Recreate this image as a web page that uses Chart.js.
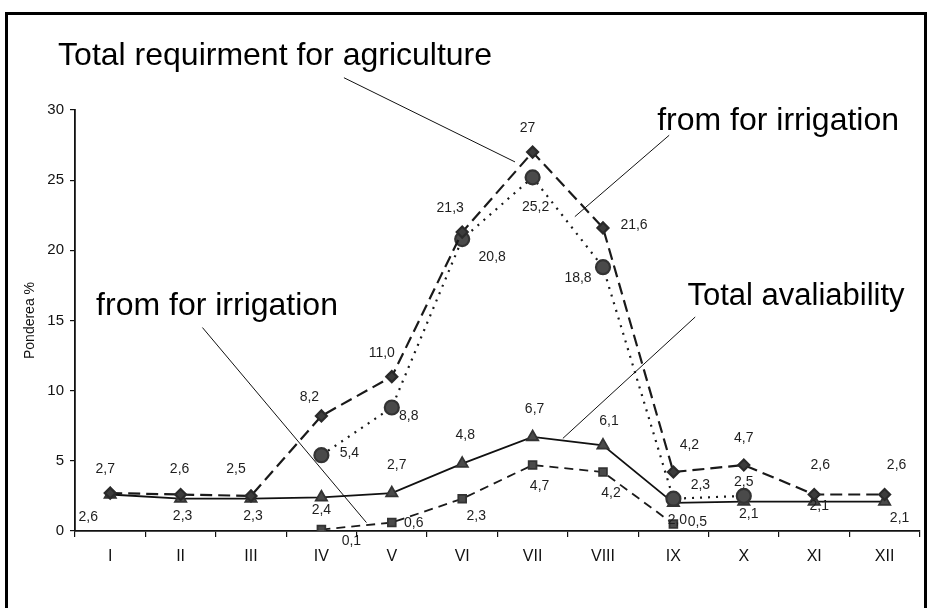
<!DOCTYPE html>
<html>
<head>
<meta charset="utf-8">
<script src="https://cdn.jsdelivr.net/npm/chart.js@4/dist/chart.umd.min.js"></script>
<style>
  html, body { margin: 0; padding: 0; background: #fff; }
  #frame {
    position: absolute; left: 5px; top: 12px; width: 916px; height: 620px;
    border-top: 3px solid #000; border-left: 3px solid #000; border-right: 3px solid #000;
  }
  #wrap { position: absolute; left: 0; top: 0; width: 929px; height: 608px; }
</style>
</head>
<body>
<div id="frame"></div>
<div id="wrap"><canvas id="myChart" width="929" height="608"></canvas></div>
<script>
const months = ["I", "II", "III", "IV", "V", "VI", "VII", "VIII", "IX", "X", "XI", "XII"];
const totalRequirement = [2.7, 2.6, 2.5, 8.2, 11.0, 21.3, 27, 21.6, 4.2, 4.7, 2.6, 2.6];
const requirementIrrigation = [null, null, null, 5.4, 8.8, 20.8, 25.2, 18.8, 2.3, 2.5, null, null];
const totalAvailability = [2.6, 2.3, 2.3, 2.4, 2.7, 4.8, 6.7, 6.1, 2.0, 2.1, 2.1, 2.1];
const availabilityIrrigation = [null, null, null, 0.1, 0.6, 2.3, 4.7, 4.2, 0.5, null, null, null];
const yTicks = [0, 5, 10, 15, 20, 25, 30];

// where each value label sits relative to its point (dx, dy in px)
const labelOffsets = [
  [[-5, -24], [-1, -25], [-15, -27], [-12, -19], [-10, -23], [-12, -24], [-5, -24], [31, -3], [16, -27], [0, -27], [6, -29], [12, -29]],
  [null, null, null, [28, -2], [17, 9], [30, 18], [3, 30], [-25, 11], [27, -14], [0, -14], null, null],
  [[-22, 23], [2, 17], [2, 17], [0, 13], [5, -28], [3, -28], [2, -28], [6, -24], [4, 17], [5, 13], [5, 5], [15, 17]],
  [null, null, null, [30, 12], [22, 1], [14, 17], [7, 21], [8, 21], [24, -2], null, null, null],
];

// callout texts with their leader lines, in (category index, value) units
const callouts = [
  { text: "Total requirment for agriculture", size: 32, at: [-0.74, 33.2], from: [3.32, 32.3], to: [5.75, 26.3] },
  { text: "from for irrigation", size: 32, at: [7.77, 28.6], from: [7.94, 28.2], to: [6.6, 22.4] },
  { text: "from for irrigation", size: 32, at: [-0.2, 15.4], from: [1.31, 14.5], to: [3.64, 0.6] },
  { text: "Total avaliability", size: 31, at: [8.2, 16.1], from: [8.31, 15.25], to: [6.43, 6.6] },
];

function fmt(v) {
  let s = Number.isInteger(v) && v > 20 ? String(v) : v.toFixed(1);
  return s.replace(".", ",");
}

const valueLabels = {
  id: "valueLabels",
  afterDatasetsDraw(chart) {
    let ctx = chart.ctx;
    ctx.save();
    ctx.font = "14px 'Liberation Sans', Arial, sans-serif";
    ctx.fillStyle = "#1e1e1e";
    ctx.textAlign = "center";
    ctx.textBaseline = "middle";
    chart.data.datasets.forEach((ds, i) => {
      let meta = chart.getDatasetMeta(i);
      meta.data.forEach((pt, j) => {
        let v = ds.data[j];
        let off = labelOffsets[i][j];
        if (v === null || !off) return;
        ctx.fillText(fmt(v), pt.x + off[0], pt.y + off[1]);
      });
    });
    ctx.restore();
  },
};

const callout = {
  id: "callout",
  afterDraw(chart) {
    let ctx = chart.ctx;
    let xs = chart.scales.x;
    let ys = chart.scales.y;
    ctx.save();
    ctx.strokeStyle = "#111";
    ctx.lineWidth = 1;
    ctx.fillStyle = "#000";
    ctx.textBaseline = "alphabetic";
    callouts.forEach((c) => {
      ctx.beginPath();
      ctx.moveTo(xs.getPixelForValue(c.from[0]), ys.getPixelForValue(c.from[1]));
      ctx.lineTo(xs.getPixelForValue(c.to[0]), ys.getPixelForValue(c.to[1]));
      ctx.stroke();
      ctx.font = c.size + "px 'Liberation Sans', Arial, sans-serif";
      ctx.fillText(c.text, xs.getPixelForValue(c.at[0]), ys.getPixelForValue(c.at[1]));
    });
    ctx.restore();
  },
};

let ctx = document.getElementById("myChart").getContext("2d");
let chart = new Chart(ctx, {
  type: "line",
  data: {
    labels: months,
    datasets: [
      {
        label: "Total requirment for agriculture",
        data: totalRequirement,
        borderColor: "#1a1a1a",
        borderWidth: 2.2,
        borderDash: [12, 6],
        pointStyle: "rectRot",
        pointRadius: 5.5,
        pointBackgroundColor: "#3c3c3c",
        pointBorderColor: "#2a2a2a",
        tension: 0,
      },
      {
        label: "from for irrigation",
        data: requirementIrrigation,
        borderColor: "#1a1a1a",
        borderWidth: 2.2,
        borderDash: [2, 6],
        pointStyle: "circle",
        pointRadius: 7,
        pointBackgroundColor: "#4a4a4a",
        pointBorderColor: "#333",
        tension: 0,
      },
      {
        label: "Total avaliability",
        data: totalAvailability,
        borderColor: "#111",
        borderWidth: 1.8,
        pointStyle: "triangle",
        pointRadius: 6.5,
        pointBackgroundColor: "#4a4a4a",
        pointBorderColor: "#333",
        tension: 0,
      },
      {
        label: "from for irrigation",
        data: availabilityIrrigation,
        borderColor: "#1a1a1a",
        borderWidth: 1.8,
        borderDash: [9, 6],
        pointStyle: "rect",
        pointRadius: 5.5,
        pointBackgroundColor: "#4a4a4a",
        pointBorderColor: "#333",
        tension: 0,
      },
    ],
  },
  options: {
    responsive: false,
    animation: false,
    layout: { padding: { top: 110, right: 4, left: 0, bottom: 0 } },
    plugins: { legend: { display: false }, tooltip: { enabled: false } },
    scales: {
      x: {
        offset: true,
        grid: { offset: true, drawOnChartArea: false, tickLength: 6, color: "#111", lineWidth: 1.2 },
        border: { color: "#111", width: 1.8 },
        ticks: { color: "#111", padding: 10, font: { family: "'Liberation Sans Narrow', 'Liberation Sans', Arial", size: 16 } },
        afterFit(scale) { scale.height = 77; },
      },
      y: {
        min: 0,
        max: 30,
        afterBuildTicks(scale) { scale.ticks = yTicks.map((v) => ({ value: v })); },
        grid: { drawOnChartArea: false, tickLength: 5, color: "#111", lineWidth: 1.2 },
        border: { color: "#111", width: 1.8 },
        ticks: { color: "#111", padding: 6, font: { family: "'Liberation Sans', Arial", size: 15 } },
        title: { display: true, text: "Ponderea %", color: "#111", padding: { top: 22, bottom: 0 }, font: { family: "'Liberation Sans', Arial", size: 14 } },
        afterFit(scale) { scale.width = 75; },
      },
    },
  },
  plugins: [valueLabels, callout],
});
</script>
</body>
</html>
